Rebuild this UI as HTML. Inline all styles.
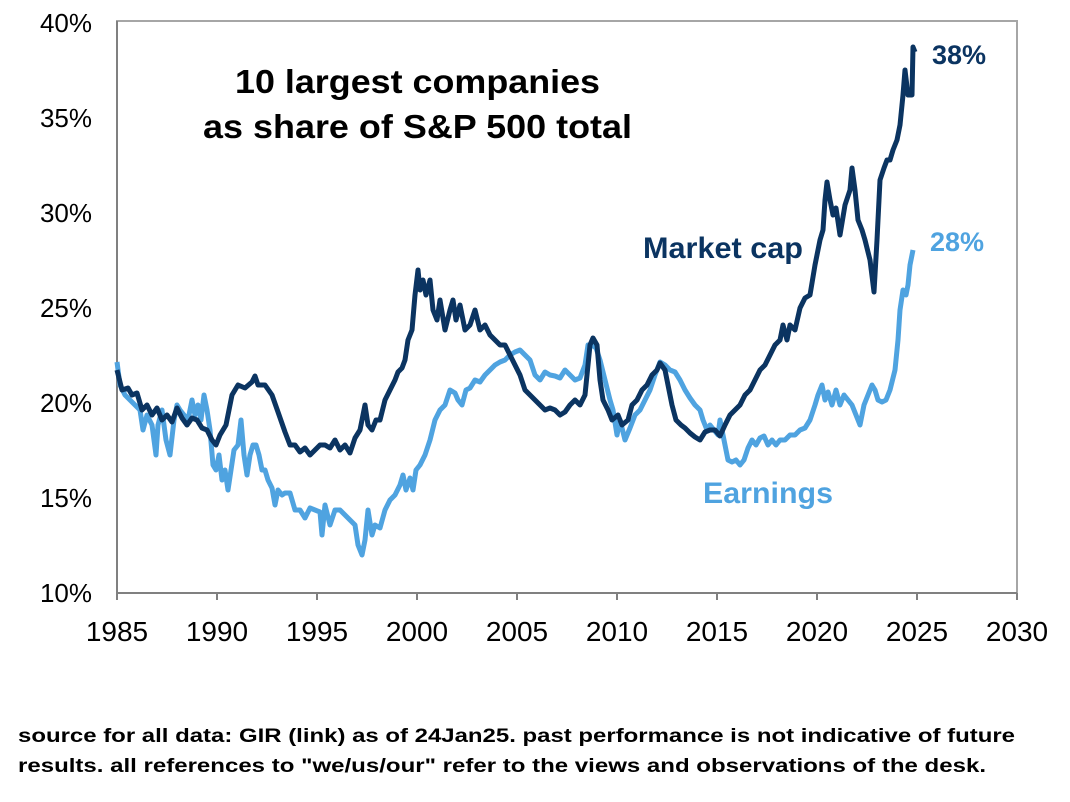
<!DOCTYPE html>
<html><head><meta charset="utf-8"><style>
html,body{margin:0;padding:0;background:#fff;}
svg{display:block;font-family:"Liberation Sans",Arial,sans-serif;}
</style></head><body>
<svg width="1070" height="802" viewBox="0 0 1070 802" xmlns="http://www.w3.org/2000/svg">
<rect width="1070" height="802" fill="#fff"/>
<rect x="117" y="21" width="900" height="572" fill="none" stroke="#a6a6a6" stroke-width="2"/>
<line x1="117" y1="593" x2="1017" y2="593" stroke="#808080" stroke-width="2"/>
<line x1="117" y1="21" x2="117" y2="593" stroke="#808080" stroke-width="2"/>
<g stroke="#808080" stroke-width="2">
<line x1="117" y1="593" x2="117" y2="600"/><line x1="217" y1="593" x2="217" y2="600"/><line x1="317" y1="593" x2="317" y2="600"/><line x1="417" y1="593" x2="417" y2="600"/><line x1="517" y1="593" x2="517" y2="600"/><line x1="617" y1="593" x2="617" y2="600"/><line x1="717" y1="593" x2="717" y2="600"/><line x1="817" y1="593" x2="817" y2="600"/><line x1="917" y1="593" x2="917" y2="600"/><line x1="1017" y1="593" x2="1017" y2="600"/>
</g>
<g font-size="26" fill="#000" text-anchor="end">
<text x="92" y="32">40%</text><text x="92" y="127">35%</text><text x="92" y="222">30%</text><text x="92" y="317">25%</text><text x="92" y="412">20%</text><text x="92" y="507">15%</text><text x="92" y="602">10%</text>
</g>
<g font-size="28" fill="#000" text-anchor="middle">
<text x="117" y="641">1985</text><text x="217" y="641">1990</text><text x="317" y="641">1995</text><text x="417" y="641">2000</text><text x="517" y="641">2005</text><text x="617" y="641">2010</text><text x="717" y="641">2015</text><text x="817" y="641">2020</text><text x="917" y="641">2025</text><text x="1017" y="641">2030</text>
</g>
<g font-size="33" font-weight="bold" fill="#000">
<text x="235" y="93" textLength="365" lengthAdjust="spacingAndGlyphs">10 largest companies</text>
<text x="203" y="138" textLength="429" lengthAdjust="spacingAndGlyphs">as share of S&amp;P 500 total</text>
</g>
<polyline fill="none" stroke="#4fa3e0" stroke-width="5" stroke-linejoin="round" points="117,362 120,385 125,395 130,400 135,405 140,410 143,430 147,415 152,425 156,455 158,425 162,410 166,440 170,455 174,420 177,405 180,410 184,415 188,420 192,400 195,415 198,405 201,420 204,395 207,410 210,430 213,465 216,470 219,455 222,480 225,470 228,490 231,470 234,450 238,445 241,420 244,455 247,475 250,455 253,445 256,445 259,455 262,470 265,470 268,480 272,488 275,505 278,490 282,495 285,493 290,493 295,510 300,510 305,518 310,508 315,510 320,512 322,535 325,505 330,525 335,510 340,510 345,515 350,520 355,525 358,545 362,555 365,540 368,510 372,535 375,525 380,528 385,510 390,500 395,495 400,485 403,475 406,490 410,478 413,490 416,470 420,465 425,455 430,440 435,420 440,410 445,405 450,390 455,393 458,400 462,405 466,390 470,388 475,380 480,382 485,375 490,370 495,365 500,362 505,360 510,355 515,352 520,350 525,355 530,360 535,375 540,380 545,372 550,375 555,376 560,378 565,370 570,375 575,380 580,378 585,365 588,345 592,345 596,348 600,360 605,380 610,400 613,410 617,435 620,420 625,440 630,428 635,415 640,410 645,400 650,390 655,375 660,362 665,365 670,370 675,372 680,380 685,390 690,398 695,405 700,410 703,420 707,430 710,425 714,430 718,435 720,420 722,430 725,445 728,460 732,462 736,460 740,465 744,460 748,448 752,440 756,445 760,438 764,436 768,445 772,440 776,445 780,440 785,440 790,435 795,435 800,430 805,428 810,420 815,405 818,395 822,385 825,400 828,392 832,405 836,390 840,405 844,395 848,400 852,405 856,415 860,425 864,405 868,395 872,385 875,390 878,400 882,402 886,400 890,390 895,370 898,340 900,310 903,290 906,295 908,285 910,265 912,255 913,250"/>
<polyline fill="none" stroke="#0b3461" stroke-width="5" stroke-linejoin="round" points="117,370 122,390 128,388 132,395 137,393 142,410 147,405 152,415 157,408 162,420 167,415 172,422 177,408 182,418 187,425 192,418 197,420 202,428 207,430 212,440 216,445 220,435 226,425 232,395 238,385 245,388 252,382 255,376 258,385 265,385 272,395 278,412 285,432 290,445 295,445 300,452 305,448 310,455 315,450 320,445 325,445 330,448 335,440 340,450 345,445 350,453 355,438 360,430 365,405 368,425 372,430 376,420 380,420 385,400 390,390 395,380 398,372 402,368 405,360 408,340 412,330 415,295 418,270 420,290 423,280 426,295 430,280 433,310 437,320 440,300 445,330 450,310 453,300 456,320 460,305 465,330 470,325 475,310 480,330 485,325 490,335 495,340 500,345 505,345 510,355 515,365 520,375 525,390 530,395 535,400 540,405 545,410 550,408 555,410 560,415 565,412 570,405 575,400 580,405 585,395 590,345 593,338 597,345 600,380 603,400 608,410 612,420 618,415 622,425 628,420 632,405 637,400 642,390 647,385 652,375 657,370 660,363 665,370 668,385 672,405 676,420 681,425 685,428 690,433 695,437 700,440 705,432 710,430 715,430 720,436 725,425 730,415 735,410 740,405 745,395 750,390 755,380 760,370 765,365 770,355 775,345 780,340 783,325 787,340 790,325 795,330 800,308 805,298 810,295 815,265 820,240 823,230 825,200 827,182 830,200 833,215 836,208 840,235 845,205 850,190 852,168 855,190 858,220 862,230 865,240 870,260 874,292 877,240 880,180 884,168 887,160 890,160 893,150 897,140 900,125 903,95 905,70 908,95 912,95 913,47 915,52"/>
<text x="643" y="258" font-size="30" font-weight="bold" fill="#0b3461" textLength="160" lengthAdjust="spacingAndGlyphs">Market cap</text>
<text x="703" y="503" font-size="30" font-weight="bold" fill="#4fa3e0" textLength="130" lengthAdjust="spacingAndGlyphs">Earnings</text>
<text x="932" y="64" font-size="27" font-weight="bold" fill="#0b3461">38%</text>
<text x="930" y="251" font-size="27" font-weight="bold" fill="#4fa3e0">28%</text>
<g font-size="19" font-weight="bold" fill="#000">
<text x="18" y="742" textLength="997" lengthAdjust="spacingAndGlyphs">source for all data: GIR (link) as of 24Jan25.  past performance is not indicative of future</text>
<text x="18" y="772" textLength="968" lengthAdjust="spacingAndGlyphs">results.  all references to "we/us/our" refer to the views and observations of the desk.</text>
</g>
</svg>
</body></html>
